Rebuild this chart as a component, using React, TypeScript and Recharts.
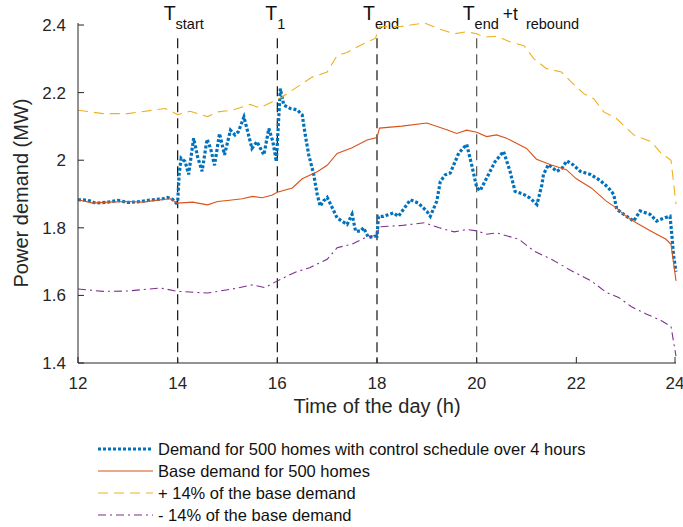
import React from 'react';
import { LineChart, Line, XAxis, YAxis, ReferenceLine } from 'recharts';

const FONT = '"Liberation Sans", Arial, Helvetica, sans-serif';
const AXIS = '#262626';

const hoursDemand = [
  12.0, 12.2, 12.35, 12.6, 12.8, 13.0, 13.2, 13.5, 13.7, 13.8, 13.9, 13.97, 14.0, 14.03, 14.07, 14.15,
  14.22, 14.32, 14.4, 14.49, 14.59, 14.66, 14.74, 14.84, 14.94, 15.06, 15.15, 15.22, 15.33, 15.49, 15.59,
  15.73, 15.83, 15.91, 15.98, 16.06, 16.13, 16.26, 16.4, 16.5, 16.56, 16.63, 16.73, 16.8, 16.86, 16.93,
  17.0, 17.1, 17.2, 17.4, 17.5, 17.57, 17.67, 17.73, 17.83, 17.93, 18.0, 18.03, 18.13, 18.33, 18.43,
  18.67, 18.83, 19.0, 19.07, 19.2, 19.27, 19.37, 19.47, 19.64, 19.8, 19.9, 20.0, 20.07, 20.2, 20.37,
  20.54, 20.67, 20.77, 20.94, 21.07, 21.21, 21.31, 21.34, 21.44, 21.61, 21.71, 21.81, 21.94, 22.08,
  22.28, 22.48, 22.64, 22.75, 22.81, 22.95, 23.15, 23.28, 23.48, 23.61, 23.78, 23.88, 23.91, 23.95, 24.0,
];
const demandMW = [
  1.883, 1.882, 1.873, 1.876, 1.881, 1.875, 1.877, 1.883, 1.886, 1.89, 1.884, 1.873, 1.875, 1.96, 2.006, 1.996,
  1.958, 2.065, 2.01, 1.967, 2.062, 2.035, 1.985, 2.079, 2.016, 2.089, 2.075, 2.085, 2.128, 2.035, 2.055,
  2.016, 2.094, 2.055, 1.996, 2.212, 2.163, 2.153, 2.149, 2.134, 2.075, 2.016, 1.958, 1.899, 1.864, 1.88,
  1.89, 1.86, 1.829, 1.81, 1.84, 1.79, 1.79, 1.8, 1.771, 1.775, 1.775, 1.834, 1.834, 1.844, 1.834,
  1.883, 1.873, 1.849, 1.834, 1.879, 1.937, 1.957, 1.962, 2.021, 2.047, 1.986, 1.92, 1.91, 1.947, 1.996,
  2.026, 1.967, 1.908, 1.899, 1.888, 1.869, 1.928, 1.958, 1.987, 1.967, 1.976, 1.998, 1.986, 1.967,
  1.958, 1.94, 1.919, 1.899, 1.855, 1.84, 1.82, 1.85, 1.84, 1.82, 1.83, 1.834, 1.79, 1.72, 1.67,
];

const hoursBase = [
  12.0, 12.3, 12.6, 13.0, 13.3, 13.6, 13.85, 14.0, 14.3, 14.6, 14.8, 15.0, 15.3, 15.5, 15.7, 15.9, 16.0,
  16.3, 16.5, 16.8, 17.0, 17.2, 17.5, 17.8, 18.0, 18.05, 18.5, 19.0, 19.4, 19.6, 19.8, 20.0, 20.2, 20.4,
  20.6, 21.0, 21.2, 21.5, 21.8, 22.0, 22.3, 22.6, 22.8, 23.0, 23.2, 23.5, 23.8, 23.9, 24.0,
];
const baseMW = [
  1.883, 1.873, 1.876, 1.878, 1.876, 1.882, 1.886, 1.873, 1.876, 1.868, 1.878, 1.881, 1.886, 1.893, 1.889, 1.897, 1.905,
  1.918, 1.945, 1.966, 1.985, 2.02, 2.037, 2.06, 2.067, 2.095, 2.101, 2.11, 2.09, 2.079, 2.089, 2.083, 2.07, 2.075,
  2.065, 2.035, 2.003, 1.986, 1.972, 1.945, 1.918, 1.879, 1.859, 1.834, 1.815, 1.79, 1.766, 1.751, 1.643,
];

const hoursUpper = [
  12.0, 12.5, 13.0, 13.5, 13.75, 14.0, 14.25, 14.6, 14.8, 15.1, 15.45, 15.65, 15.9, 16.1, 16.4, 16.7, 17.0,
  17.2, 17.4, 17.65, 17.97, 18.05, 18.5, 18.95, 19.25, 19.55, 19.8, 20.0, 20.15, 20.4, 20.65, 20.95, 21.15,
  21.4, 21.7, 21.9, 22.15, 22.35, 22.55, 22.8, 23.15, 23.5, 23.7, 23.9, 24.0,
];
const upperMW = [
  2.148, 2.138, 2.138, 2.148, 2.153, 2.135, 2.145, 2.129, 2.143, 2.148, 2.165, 2.155, 2.173, 2.187, 2.217, 2.246, 2.261,
  2.31, 2.319, 2.339, 2.361, 2.395, 2.396, 2.406, 2.388, 2.374, 2.38, 2.374, 2.364, 2.367, 2.351, 2.339, 2.3,
  2.271, 2.261, 2.231, 2.197, 2.182, 2.143, 2.124, 2.075, 2.055, 2.021, 2.0, 1.87,
];

const hoursLower = [
  12.0, 12.5, 13.0, 13.65, 14.0, 14.6, 15.1, 15.5, 15.75, 16.0, 16.35, 16.65, 17.0, 17.2, 17.5, 17.75, 18.0,
  18.05, 18.5, 18.95, 19.25, 19.55, 19.8, 20.0, 20.2, 20.4, 20.85, 21.15, 21.5, 21.9, 22.3, 22.6, 22.85,
  23.1, 23.4, 23.7, 23.9, 24.0,
];
const lowerMW = [
  1.619, 1.612, 1.613, 1.622, 1.612, 1.607, 1.619, 1.631, 1.623, 1.643, 1.668, 1.682, 1.707, 1.741, 1.752, 1.77, 1.779,
  1.803, 1.807, 1.815, 1.8, 1.788, 1.795, 1.791, 1.781, 1.785, 1.766, 1.731, 1.707, 1.673, 1.643, 1.609, 1.594,
  1.567, 1.545, 1.526, 1.508, 1.42,
];

const xTicks = [12, 14, 16, 18, 20, 22, 24];
const yTicks = [1.4, 1.6, 1.8, 2, 2.2, 2.4];

// vertical event markers: hour, subscript, and optional "+t rebound" suffix
const markerHours = [14, 16, 18, 20];
const markerSubs = ['start', '1', 'end', 'end'];
const markerTop = 2.361;

const zip = (hs: number[], vs: number[]) => hs.map((h, i) => ({ h, v: vs[i] }));

const series = [
  { name: 'Demand for 500 homes with control schedule over 4 hours', data: zip(hoursDemand, demandMW), color: '#0072BD', width: 3.2, dash: '3 2' },
  { name: 'Base demand for 500 homes', data: zip(hoursBase, baseMW), color: '#D95319', width: 1.1, dash: undefined },
  { name: '+ 14% of the base demand', data: zip(hoursUpper, upperMW), color: '#EDB120', width: 1.1, dash: '10 6' },
  { name: '- 14% of the base demand', data: zip(hoursLower, lowerMW), color: '#7E2F8E', width: 1.1, dash: '8 4 2 4' },
];

const XTick = ({ x, y, payload }: any) => (
  <g>
    <line x1={x} x2={x} y1={y} y2={y - 6} stroke={AXIS} />
    <text x={x} y={y + 20} dy="0.35em" textAnchor="middle" fontSize={17} fill={AXIS} fontFamily={FONT}>
      {payload.value}
    </text>
  </g>
);

const YTick = ({ x, y, payload }: any) => (
  <g>
    <line x1={x} x2={x + 6} y1={y} y2={y} stroke={AXIS} />
    <text x={x - 12} y={y} dy="0.35em" textAnchor="end" fontSize={17} fill={AXIS} fontFamily={FONT}>
      {String(payload.value)}
    </text>
  </g>
);

const markerLabel = (i: number) => (props: any) => {
  const vb = props.viewBox || {};
  const x = (vb.x ?? 0) - (i === 1 ? 12 : 14);
  const y = (vb.y ?? 36) - 18;
  return (
    <text x={x} y={y} fontSize={19.5} fill="#111" fontFamily={FONT}>
      T
      <tspan fontSize={14.5} dy={9}>{markerSubs[i]}</tspan>
      {i === 3 && (
        <>
          <tspan fontSize={17.5} dx={4} dy={-9}>+t</tspan>
          <tspan fontSize={14.5} dx={8} dy={9}>rebound</tspan>
        </>
      )}
    </text>
  );
};

const Legend = () => (
  <div style={{ position: 'absolute', left: 98, top: 438, fontFamily: FONT, fontSize: 16.5, color: '#111' }}>
    {series.map((s) => (
      <div key={s.name} style={{ display: 'flex', alignItems: 'center', height: 22 }}>
        <svg width={55} height={22} style={{ marginRight: 5 }}>
          <line x1={0} x2={55} y1={11} y2={11} stroke={s.color} strokeWidth={s.width} strokeDasharray={s.dash} />
        </svg>
        <span style={{ whiteSpace: 'nowrap' }}>{s.name}</span>
      </div>
    ))}
  </div>
);

export default function App() {
  return (
    <div style={{ position: 'absolute', left: 0, top: 0, width: 683, height: 527, background: '#fff' }}>
      <LineChart width={683} height={527} margin={{ top: 23, right: 7, bottom: 109, left: 0 }}>
        <XAxis
          type="number"
          dataKey="h"
          domain={[12, 24]}
          ticks={xTicks}
          height={55}
          tickSize={0}
          tickMargin={0}
          tick={<XTick />}
          axisLine={{ stroke: AXIS }}
          allowDuplicatedCategory={false}
          label={{ value: 'Time of the day (h)', position: 'insideBottom', offset: 5, fontSize: 20, fill: AXIS, fontFamily: FONT }}
        />
        <YAxis
          type="number"
          domain={[1.4, 2.4]}
          ticks={yTicks}
          width={78}
          tickSize={0}
          tickMargin={0}
          tick={<YTick />}
          axisLine={{ stroke: AXIS }}
          label={{
            value: 'Power demand (MW)',
            angle: -90,
            position: 'insideLeft',
            offset: 21,
            fontSize: 20,
            fill: AXIS,
            fontFamily: FONT,
            style: { textAnchor: 'middle' },
          }}
        />
        {markerHours.map((hx, i) => (
          <ReferenceLine
            key={hx}
            segment={[{ x: hx, y: markerTop }, { x: hx, y: 1.4 }]}
            stroke={i === 3 ? '#555' : '#111'}
            strokeWidth={1.2}
            strokeDasharray="10 6"
            label={markerLabel(i)}
          />
        ))}
        {series.map((s) => (
          <Line
            key={s.name}
            data={s.data}
            dataKey="v"
            type="linear"
            stroke={s.color}
            strokeWidth={s.width}
            strokeDasharray={s.dash}
            dot={false}
            activeDot={false}
            isAnimationActive={false}
          />
        ))}
      </LineChart>
      <Legend />
    </div>
  );
}
